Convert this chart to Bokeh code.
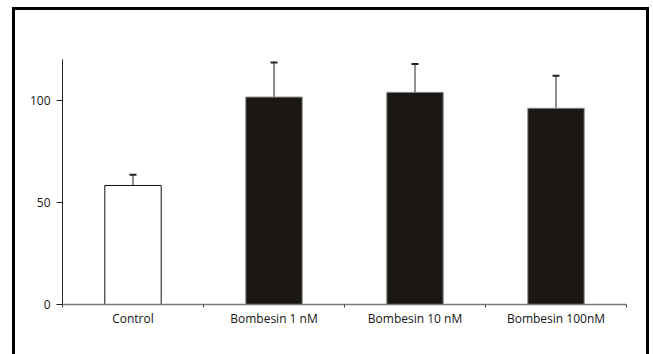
from bokeh.plotting import figure
from bokeh.models import Range1d, FixedTicker, Whisker, TeeHead, ColumnDataSource
from bokeh.layouts import column
from bokeh.embed import file_html
from bokeh.resources import INLINE

categories = ["Control", "Bombesin 1 nM", "Bombesin 10 nM", "Bombesin 100nM"]
values = [58.3, 101.6, 103.9, 96.1]
errors = [5.3, 16.9, 13.9, 16.0]
y_ticks = [0, 50, 100]

n = len(categories)
xs = [i + 0.5 for i in range(n)]
fills = ["white"] + ["#1b1814"] * (n - 1)
lines = ["#111111"] + ["#888888"] * (n - 1)

src = ColumnDataSource(dict(x=xs, top=values, upper=[v + e for v, e in zip(values, errors)],
                            fill=fills, line=lines))

p = figure(width=631, height=344, output_backend="svg", toolbar_location=None,
           x_range=Range1d(0, n), y_range=Range1d(0, 120))
p.min_border_left = 47
p.min_border_right = 20
p.min_border_top = 49
p.min_border_bottom = 50
p.outline_line_color = None
p.xgrid.visible = False
p.ygrid.visible = False
p.background_fill_color = "white"
p.border_fill_color = "white"

p.vbar(x="x", top="top", bottom=0, width=0.4, source=src,
       fill_color="fill", line_color="line", line_width=1)

p.add_layout(Whisker(source=src, base="x", lower="top", upper="upper",
                     line_color="#222222", line_width=1,
                     upper_head=TeeHead(size=7, line_width=2, line_color="#222222"),
                     lower_head=None))

xa = p.xaxis[0]
xa.ticker = FixedTicker(ticks=xs, minor_ticks=list(range(n + 1)))
xa.major_label_overrides = {x: c for x, c in zip(xs, categories)}
xa.major_tick_out = 0
xa.major_tick_in = 0
xa.minor_tick_out = 3
xa.minor_tick_in = 0
xa.minor_tick_line_color = "#444444"
xa.axis_line_color = "#777777"
xa.axis_line_width = 1.5
xa.major_label_text_font = "Open Sans"
xa.major_label_text_font_size = "12px"
xa.major_label_text_color = "#151515"
xa.major_label_standoff = 2

ya = p.yaxis[0]
ya.ticker = FixedTicker(ticks=y_ticks, minor_ticks=[])
ya.major_tick_out = 6
ya.major_tick_in = 0
ya.major_tick_line_color = "#222222"
ya.axis_line_color = "#222222"
ya.major_label_text_font = "Open Sans"
ya.major_label_text_font_size = "12px"
ya.major_label_text_color = "#151515"
ya.major_label_standoff = 6

layout = column(p, styles={"border-left": "3px solid black", "border-top": "3px solid black",
                           "border-right": "3px solid black", "margin-left": "12px",
                           "margin-top": "7px"})

open("out.html", "w").write(file_html(layout, INLINE))
